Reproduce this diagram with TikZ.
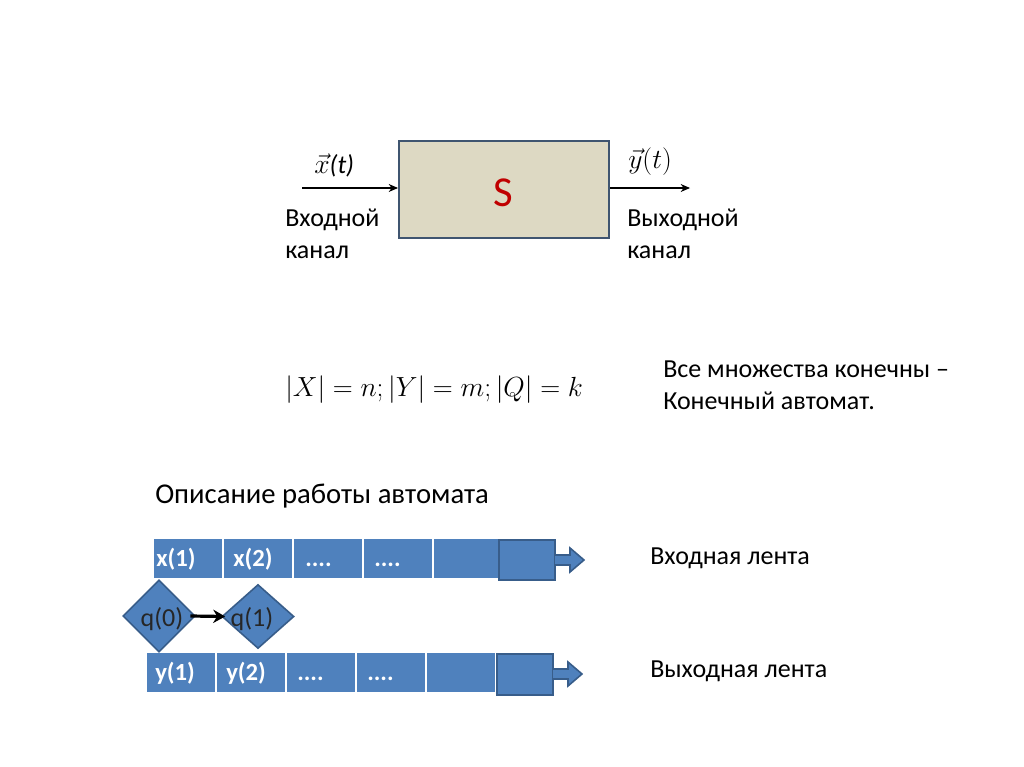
\documentclass[tikz,border=0pt]{standalone}
\usepackage{fontspec}
\setmainfont{Carlito}
\usetikzlibrary{shapes.geometric,arrows.meta}
\definecolor{tape}{HTML}{4F81BD}
\definecolor{tapeedge}{HTML}{385D8A}
\definecolor{boxfill}{HTML}{DDD9C3}
\definecolor{boxedge}{HTML}{3F5570}
\definecolor{sred}{HTML}{C00000}
\tikzset{
  lbl/.style={font=\fontsize{19.5}{24}\selectfont, anchor=west, inner sep=0pt, align=left},
  celltxt/.style={font=\fontsize{18.5}{20}\selectfont\bfseries, text=white, anchor=base west, inner sep=0pt},
  cell/.style={fill=tape, draw=white, line width=1.2pt},
  endbox/.style={fill=tape, draw=tapeedge, line width=1.5pt},
  qstate/.style={shape=diamond, fill=tape, draw=tapeedge, line width=1.2pt, inner sep=0pt},
  qtxt/.style={font=\fontsize{19.5}{22}\selectfont, text=black!85, anchor=base, inner sep=0pt},
  sig/.style={-{Stealth[length=7pt,width=6pt]}, line width=0.8pt},
}
\begin{document}
\begin{tikzpicture}[x=0.75pt,y=-0.75pt]
\useasboundingbox (0,0) rectangle (1024,767);
% system block
\node[draw=boxedge, fill=boxfill, line width=1.5pt, minimum width=157.5pt, minimum height=72.75pt, inner sep=0pt] (S) at (504,189.5) {};
\node[font=\fontsize{32}{36}\selectfont, text=sred, inner sep=0pt] (Slab) at (503,193) {S};
\coordinate (inL) at (302,188);
\coordinate (outR) at (690,188);
\draw[sig] (inL) -- (S.west |- inL);
\draw[sig] (S.east |- outR) -- (outR);
\node[lbl] (xt) at (314,165) {$\vec{x}$\textit{(t)}};
\node[lbl] (yt) at (628,162) {$\vec{y}(t)$};
\node[lbl, anchor=north west] (inch) at (285,209) {Входной\\канал};
\node[lbl, anchor=north west] (outch) at (627,209) {Выходной\\канал};
% formula
\node[lbl, font=\fontsize{21.5}{24}\selectfont] (formula) at (285,390) {$|X|=n;|Y|=m;|Q|=k$};
\node[lbl, anchor=north west] (fin) at (663,361) {Все множества конечны –\\Конечный автомат.};
\node[lbl, font=\fontsize{21.5}{26}\selectfont] (desc) at (155,496) {Описание работы автомата};
% input tape
\foreach \a/\b in {153/223, 223/293, 293/363, 363/433, 433/503}
  \draw[cell] (\a,538) rectangle (\b,579);
\draw[endbox] (499,540) rectangle (555,580);
\fill[tape] (555,555) -- (570,555) -- (570,548) -- (584,560) -- (570,572) -- (570,565) -- (555,565) -- cycle;
\draw[tapeedge, line width=1.2pt] (555,555) -- (570,555) -- (570,548) -- (584,560) -- (570,572) -- (570,565) -- (555,565);
\node[celltxt] (x1) at (156,566) {x(1)};
\node[celltxt] (x2) at (233,566) {x(2)};
\node[celltxt] (x3) at (305,566) {....};
\node[celltxt] (x4) at (374,566) {....};
\node[lbl] (inlab) at (650,558) {Входная лента};
% output tape
\foreach \a/\b in {146/216, 216/286, 286/356, 356/426, 426/496}
  \draw[cell] (\a,652) rectangle (\b,693);
\draw[endbox] (497,654) rectangle (553,695);
\fill[tape] (553,669) -- (568,669) -- (568,662) -- (582,674) -- (568,686) -- (568,679) -- (553,679) -- cycle;
\draw[tapeedge, line width=1.2pt] (553,669) -- (568,669) -- (568,662) -- (582,674) -- (568,686) -- (568,679) -- (553,679);
\node[celltxt] (y1) at (155,680) {y(1)};
\node[celltxt] (y2) at (226,680) {y(2)};
\node[celltxt] (y3) at (297,680) {....};
\node[celltxt] (y4) at (367,680) {....};
\node[lbl] (outlab) at (650,671) {Выходная лента};
% states
\node[qstate, minimum width=54pt, minimum height=54pt] (q0) at (159,616) {};
\node[qstate, minimum width=54pt, minimum height=48pt] (q1) at (258,616.5) {};
\node[qtxt] (q0t) at (162,626) {q(0)};
\node[qtxt] (q1t) at (252,626) {q(1)};
\draw[-{Stealth[length=9pt,width=10pt]}, line width=2.4pt] ([xshift=-4pt]q0.east) -- ([xshift=3pt]q1.west);
\end{tikzpicture}
\end{document}
